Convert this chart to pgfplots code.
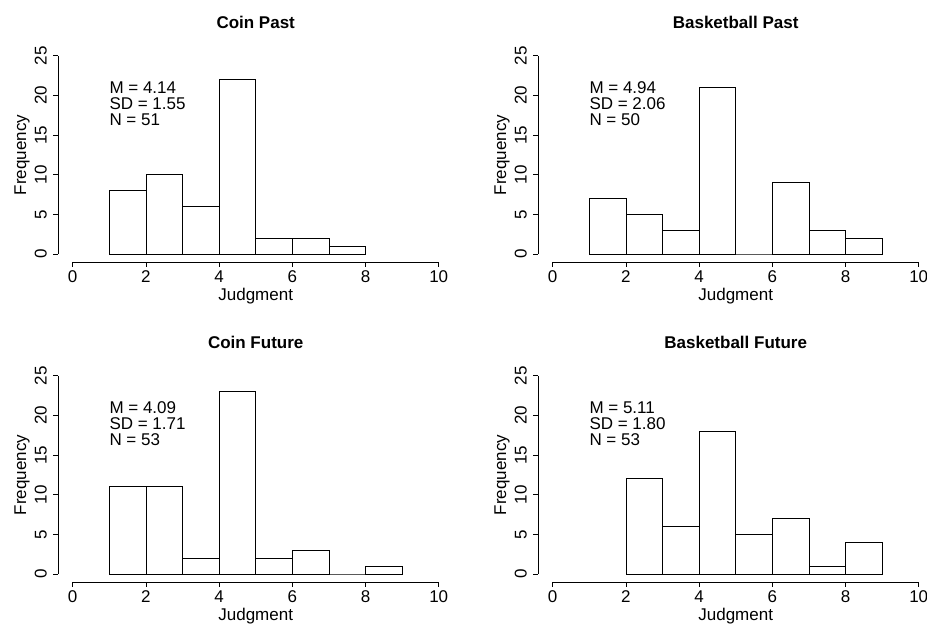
\documentclass[border=0pt]{standalone}
\usepackage{pgfplots}
\pgfplotsset{compat=1.18}
\usepackage{fontspec}
\setmainfont{Liberation Sans}
\newcommand\rf{\fontsize{17}{20}\selectfont}
\pgfplotsset{
  rhist/.style={
    x=36.6pt, y=7.93pt,
    xmin=-0.4, xmax=10.4, ymin=-1, ymax=26,
    anchor=origin,
    axis x line*=bottom, axis y line*=left,
    axis line style={draw=none},
    xtick={0,2,4,6,8,10}, ytick={0,5,10,15,20,25},
    minor tick num=0,
    tick align=outside, major tick length=5pt,
    tick style={black, line width=0.8pt},
    /pgf/number format/assume math mode=true,
    tick label style={font=\rf},
    xticklabel style={anchor=north, inner sep=0pt},
    yticklabel style={rotate=90, anchor=south, inner sep=0pt},
    xticklabel shift=4pt,
    yticklabel shift=6pt,
    clip=false,
  },
  hbar/.style={ybar interval, draw=black, fill=white, line width=0.8pt},
}
\newcommand\raxes{%
  \draw[line width=0.8pt] (axis cs:0,-1) -- (axis cs:10,-1);
  \draw[line width=0.8pt] (axis cs:-0.4,0) -- (axis cs:-0.4,25);
}
\newcommand\stats[3]{%
  \node[anchor=base west, font=\rf, inner sep=0pt] at (axis cs:1,20.21) {M = #1};
  \node[anchor=base west, font=\rf, inner sep=0pt] at (axis cs:1,18.21) {SD = #2};
  \node[anchor=base west, font=\rf, inner sep=0pt] at (axis cs:1,16.21) {N = #3};
}
\begin{document}
\begin{tikzpicture}[x=1pt,y=1pt]
\useasboundingbox (0,0) rectangle (927,624);
% Coin Past
\begin{axis}[rhist, at={(72.7pt,370pt)}]
\addplot[hbar] coordinates {(1,8) (2,10) (3,6) (4,22) (5,2) (6,2) (7,1) (8,1)};
\raxes
\stats{4.14}{1.55}{51}
\end{axis}
% Basketball Past
\begin{axis}[rhist, at={(552.7pt,370pt)}]
\addplot[hbar] coordinates {(1,7) (2,5) (3,3) (4,21) (5,0) (6,9) (7,3) (8,2) (9,2)};
\raxes
\stats{4.94}{2.06}{50}
\end{axis}
% Coin Future
\begin{axis}[rhist, at={(72.7pt,50pt)}]
\addplot[hbar] coordinates {(1,11) (2,11) (3,2) (4,23) (5,2) (6,3) (7,0) (8,1) (9,1)};
\raxes
\stats{4.09}{1.71}{53}
\end{axis}
% Basketball Future
\begin{axis}[rhist, at={(552.7pt,50pt)}]
\addplot[hbar] coordinates {(2,12) (3,6) (4,18) (5,5) (6,7) (7,1) (8,4) (9,4)};
\raxes
\stats{5.11}{1.80}{53}
\end{axis}
% titles
\node[anchor=base, font=\rf\bfseries] at (255.7,595.7) {Coin Past};
\node[anchor=base, font=\rf\bfseries] at (735.7,595.7) {Basketball Past};
\node[anchor=base, font=\rf\bfseries] at (255.7,275.7) {Coin Future};
\node[anchor=base, font=\rf\bfseries] at (735.7,275.7) {Basketball Future};
% x labels
\node[anchor=base, font=\rf] at (255.7,323) {Judgment};
\node[anchor=base, font=\rf] at (735.7,323) {Judgment};
\node[anchor=base, font=\rf] at (255.7,3) {Judgment};
\node[anchor=base, font=\rf] at (735.7,3) {Judgment};
% y labels
\node[anchor=base, rotate=90, font=\rf] at (26,469) {Frequency};
\node[anchor=base, rotate=90, font=\rf] at (506,469) {Frequency};
\node[anchor=base, rotate=90, font=\rf] at (26,149) {Frequency};
\node[anchor=base, rotate=90, font=\rf] at (506,149) {Frequency};
\end{tikzpicture}
\end{document}
